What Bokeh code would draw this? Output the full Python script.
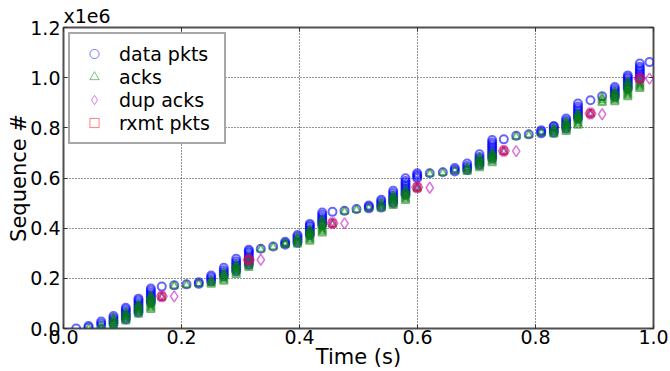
from bokeh.plotting import figure
from bokeh.models import FixedTicker, LinearAxis, Range1d, Legend, LegendItem, Title
from bokeh.embed import file_html
from bokeh.resources import INLINE

# ---- data (sequence numbers in units of 1e6) ----
DATA_T = [0.0215, 0.0424, 0.0639, 0.0847, 0.1056, 0.1271, 0.148, 0.1666, 0.1876, 0.2085,
          0.2293, 0.2503, 0.2717, 0.2927, 0.3141, 0.3344, 0.3554, 0.3758, 0.3966, 0.4175,
          0.4385, 0.4559, 0.4763, 0.4966, 0.5175, 0.5385, 0.5588, 0.5797, 0.5995, 0.6208,
          0.6429, 0.6632, 0.6842, 0.7051, 0.7266, 0.7463, 0.7673, 0.7886, 0.8097, 0.831,
          0.852, 0.872, 0.8932, 0.913, 0.9344, 0.9564, 0.9768, 0.9932]
DATA_SEQ = [
    [0.0], [0.004, 0.010], [0.012, 0.020, 0.028], [0.018, 0.026, 0.034, 0.042, 0.050],
    [0.036, 0.044, 0.052, 0.060, 0.068, 0.076, 0.083],
    [0.064, 0.072, 0.080, 0.088, 0.096, 0.104, 0.112, 0.119],
    [0.103, 0.111, 0.119, 0.127, 0.135, 0.143, 0.151, 0.159],
    [0.167], [0.172], [0.176], [0.178, 0.184], [0.188, 0.196, 0.204, 0.211],
    [0.208, 0.216, 0.224, 0.232, 0.242],
    [0.228, 0.236, 0.244, 0.252, 0.260, 0.268, 0.278],
    [0.254, 0.262, 0.270, 0.278, 0.286, 0.294, 0.302, 0.308, 0.314],
    [0.318], [0.327], [0.334, 0.340, 0.346], [0.342, 0.350, 0.358, 0.366, 0.373],
    [0.373, 0.381, 0.389, 0.397, 0.405, 0.411, 0.417],
    [0.413, 0.421, 0.429, 0.437, 0.445, 0.453, 0.462],
    [0.465], [0.469], [0.476], [0.479, 0.485, 0.490], [0.482, 0.490, 0.498, 0.506, 0.513],
    [0.499, 0.507, 0.515, 0.523, 0.531, 0.540, 0.549],
    [0.532, 0.540, 0.548, 0.556, 0.564, 0.572, 0.580, 0.588, 0.599],
    [0.599, 0.606, 0.612, 0.619],
    [0.619], [0.623], [0.626, 0.633, 0.640], [0.632, 0.640, 0.648, 0.658],
    [0.652, 0.660, 0.668, 0.676, 0.684, 0.695],
    [0.678, 0.686, 0.694, 0.702, 0.710, 0.718, 0.726, 0.734, 0.742, 0.751],
    [0.754], [0.768], [0.774], [0.778, 0.784, 0.790], [0.780, 0.788, 0.796, 0.804, 0.807],
    [0.797, 0.805, 0.813, 0.821, 0.829, 0.837],
    [0.837, 0.845, 0.853, 0.861, 0.869, 0.877, 0.885, 0.897],
    [0.910], [0.926], [0.923, 0.931, 0.939, 0.947, 0.955, 0.963],
    [0.956, 0.964, 0.972, 0.980, 0.988, 0.996, 1.002, 1.009],
    [0.996, 1.004, 1.012, 1.020, 1.028, 1.036, 1.044, 1.056],
    [1.062],
]

ACK_T = [0.0424, 0.0639, 0.0847, 0.1056, 0.1271, 0.148, 0.1666, 0.1876, 0.2085, 0.2293,
         0.2503, 0.2717, 0.2927, 0.3141, 0.3344, 0.3554, 0.3758, 0.3966, 0.4175, 0.4385,
         0.4559, 0.4763, 0.4966, 0.5175, 0.5385, 0.5588, 0.5797, 0.5995, 0.6208, 0.6429,
         0.6632, 0.6842, 0.7051, 0.7266, 0.7463, 0.7673, 0.7886, 0.8097, 0.831, 0.852,
         0.872, 0.8932, 0.913, 0.9344, 0.9564, 0.9768]
ACK_SEQ = [
    [0.0], [0.0, 0.008], [0.0, 0.010, 0.020, 0.030, 0.040],
    [0.029, 0.037, 0.045, 0.053, 0.064], [0.056, 0.064, 0.072, 0.080, 0.088, 0.095],
    [0.075, 0.083, 0.091, 0.099, 0.107, 0.115, 0.123, 0.128],
    [0.124], [0.170], [0.174], [0.178], [0.176, 0.183, 0.190],
    [0.188, 0.196, 0.204, 0.212, 0.222], [0.215, 0.223, 0.231, 0.239, 0.247, 0.254],
    [0.242, 0.250, 0.258, 0.266, 0.274, 0.282],
    [0.316], [0.325], [0.334, 0.340], [0.335, 0.343, 0.351, 0.362],
    [0.347, 0.355, 0.363, 0.371, 0.379, 0.387, 0.393],
    [0.380, 0.388, 0.396, 0.404, 0.412, 0.420, 0.433],
    [0.415], [0.467], [0.474], [0.480], [0.480, 0.488, 0.499],
    [0.490, 0.498, 0.506, 0.514, 0.522, 0.530], [0.510, 0.518, 0.526, 0.534, 0.542, 0.550],
    [0.556, 0.562], [0.617], [0.621], [0.628], [0.625, 0.632, 0.640],
    [0.640, 0.648, 0.656, 0.664, 0.672, 0.680], [0.660, 0.668, 0.676, 0.684, 0.692, 0.700],
    [0.705], [0.766], [0.772], [0.780], [0.775, 0.783, 0.791, 0.797],
    [0.785, 0.793, 0.801, 0.809, 0.817, 0.825],
    [0.810, 0.818, 0.826, 0.834, 0.842, 0.850, 0.855],
    [0.855], [0.900, 0.910, 0.920], [0.903, 0.911, 0.919, 0.927, 0.935, 0.943],
    [0.923, 0.931, 0.939, 0.947, 0.955, 0.963, 0.971, 0.983],
    [0.956, 0.964, 0.972, 0.980, 0.990],
]

DUP_T = [0.1636, 0.1666, 0.1696, 0.1876, 0.3111, 0.3141, 0.3171, 0.3344,
         0.4529, 0.4559, 0.4589, 0.4763, 0.5965, 0.5995, 0.6025, 0.6208,
         0.7433, 0.7463, 0.7493, 0.7673, 0.8902, 0.8932, 0.8962, 0.913,
         0.9738, 0.9768, 0.9798, 0.9932]
DUP_SEQ = [0.128, 0.128, 0.128, 0.128, 0.274, 0.274, 0.274, 0.274,
           0.420, 0.420, 0.420, 0.419, 0.563, 0.563, 0.563, 0.561,
           0.708, 0.708, 0.708, 0.707, 0.857, 0.857, 0.857, 0.854,
           0.996, 0.996, 0.996, 0.996]

RXMT_T = [0.1666, 0.3141, 0.4559, 0.5995, 0.7463, 0.8932, 0.9768]
RXMT_SEQ = [0.128, 0.274, 0.420, 0.563, 0.708, 0.857, 0.996]

SERIES_NAMES = ["data pkts", "acks", "dup acks", "rxmt pkts"]

X_TICKS = [0.0, 0.2, 0.4, 0.6, 0.8, 1.0]
X_LABELS = ["0.0", "0.2", "0.4", "0.6", "0.8", "1.0"]
Y_TICKS = [0.0, 0.2, 0.4, 0.6, 0.8, 1.0, 1.2]
Y_LABELS = ["0.0", "0.2", "0.4", "0.6", "0.8", "1.0", "1.2"]
SCALE_TEXT = "x1e6"


def flatten(ts, seqs):
    xs, ys = [], []
    for t, col in zip(ts, seqs):
        for s in col:
            xs.append(t)
            ys.append(s)
    return xs, ys


data_x, data_y = flatten(DATA_T, DATA_SEQ)
ack_x, ack_y = flatten(ACK_T, ACK_SEQ)

FONT = "DejaVu Sans"

p = figure(width=670, height=371, output_backend="svg", toolbar_location=None,
           x_range=Range1d(0, 1), y_range=Range1d(0, 1.2),
           min_border_left=63, min_border_right=17, min_border_top=27,
           min_border_bottom=42, background_fill_color="white",
           border_fill_color="white")
p.title = Title(text=SCALE_TEXT, align="left", text_font=FONT, text_font_size="19px",
                text_font_style="normal", text_color="black", standoff=1, offset=0)

STYLES = [
    dict(marker="circle", size=8, line_color="#0000ff"),
    dict(marker="triangle", size=8, line_color="#008000"),
    dict(marker="diamond", size=11, line_color="#bf00bf"),
    dict(marker="square", size=7, line_color="#ff0000"),
]
XS = [data_x, ack_x, DUP_T, RXMT_T]
YS = [data_y, ack_y, DUP_SEQ, RXMT_SEQ]
WIDTHS = [2.0, 2.0, 1.5, 1.5]
ALPHAS = [0.6, 0.55, 0.55, 0.5]
NAN = float("nan")

items = []
for st, xs, ys, lw, al, name in zip(STYLES, XS, YS, WIDTHS, ALPHAS, SERIES_NAMES):
    p.scatter(xs, ys, fill_color=None, line_alpha=al, line_width=lw, **st)
    # thin-lined legend-only renderer (no visible point), like the legend markers
    lr = p.scatter([NAN], [NAN], fill_color=None, line_alpha=0.5, line_width=1.0, **st)
    items.append(LegendItem(label=name, renderers=[lr], index=0))

# axes
p.xaxis.ticker = FixedTicker(ticks=X_TICKS)
p.yaxis.ticker = FixedTicker(ticks=Y_TICKS)
p.xaxis.major_label_overrides = dict(zip(X_TICKS, X_LABELS))
p.yaxis.major_label_overrides = dict(zip(Y_TICKS, Y_LABELS))
p.xaxis.axis_label = "Time (s)"
p.yaxis.axis_label = "Sequence #"
for ax in (p.xaxis[0], p.yaxis[0]):
    ax.axis_line_color = None
    ax.major_tick_in = 4
    ax.major_tick_out = 0
    ax.minor_tick_line_color = None
    ax.major_tick_line_color = "#333333"
    ax.major_label_text_font = FONT
    ax.major_label_text_font_size = "19px"
    ax.major_label_text_color = "black"
    ax.axis_label_text_font = FONT
    ax.axis_label_text_font_size = "21px"
    ax.axis_label_text_font_style = "normal"
    ax.axis_label_text_color = "black"
p.xaxis.major_label_standoff = 1
p.xaxis.axis_label_standoff = -2
p.yaxis.major_label_standoff = 3
p.yaxis.axis_label_standoff = -4

for loc, tk in (("right", Y_TICKS), ("above", X_TICKS)):
    ax = LinearAxis(ticker=FixedTicker(ticks=tk), axis_line_color=None,
                    major_tick_in=4, major_tick_out=0, minor_tick_line_color=None,
                    major_tick_line_color="#333333", major_label_text_font_size="1px",
                    major_label_text_color=None, major_label_standoff=0)
    p.add_layout(ax, loc)

p.xgrid.ticker = FixedTicker(ticks=X_TICKS)
p.ygrid.ticker = FixedTicker(ticks=Y_TICKS)
for g in (p.xgrid[0], p.ygrid[0]):
    g.grid_line_color = "black"
    g.grid_line_dash = "1 2"
    g.grid_line_alpha = 0.85
    g.grid_line_width = 1

p.outline_line_color = "#505050"
p.outline_line_width = 2
p.outline_line_alpha = 1

lg = Legend(items=items, location="top_left", margin=5, padding=8, spacing=0,
            glyph_width=32, glyph_height=23, label_height=23, label_width=97,
            label_standoff=9, label_text_font=FONT, label_text_font_size="19px",
            label_text_color="black",
            border_line_color="#505050", border_line_width=2,
            background_fill_alpha=1)
p.add_layout(lg, "center")

open("out.html", "w").write(file_html(p, INLINE))
